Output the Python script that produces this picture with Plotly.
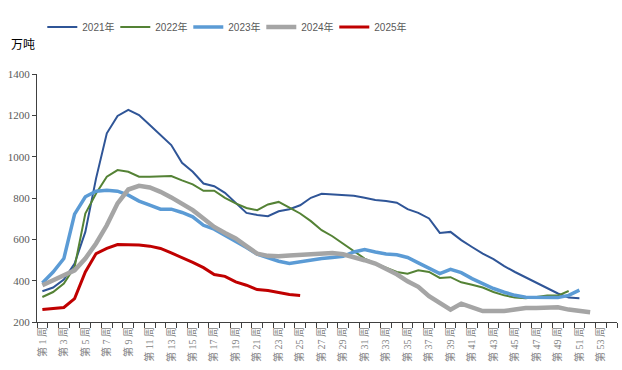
import plotly.graph_objects as go

weeks = [f"第{i}周" for i in range(1, 55)]

y2021 = [349, 367, 405, 483, 636, 895, 1113, 1197, 1226, 1201, 1153, 1105, 1056, 970,
         927, 870, 857, 825, 774, 728, 718, 712, 736, 746, 765, 801, 820, 817, 815, 811,
         801, 790, 785, 777, 746, 728, 701, 631, 636, 596, 563, 531, 504, 470, 442, 415,
         391, 362, 338, 318, 315]
y2022 = [321, 345, 386, 466, 725, 822, 903, 935, 927, 903, 903, 903, 906, 885, 866, 835,
         835, 801, 774, 752, 741, 769, 781, 754, 725, 688, 644, 615, 580, 544, 507, 483,
         463, 442, 434, 450, 442, 413, 417, 392, 380, 367, 345, 329, 318, 315, 321, 328,
         328, 350]
y2023 = [389, 442, 507, 722, 806, 833, 838, 833, 814, 785, 765, 746, 746, 730, 709, 668,
         649, 620, 588, 560, 528, 512, 494, 483, 491, 502, 507, 512, 518, 539, 551, 539,
         529, 525, 512, 486, 462, 434, 455, 439, 410, 386, 362, 344, 329, 320, 320, 318,
         318, 329, 354]
y2024 = [378, 402, 426, 450, 507, 580, 668, 774, 841, 859, 851, 830, 803, 772, 741, 701,
         660, 631, 604, 567, 531, 520, 518, 522, 526, 531, 534, 534, 528, 515, 499, 483,
         459, 431, 397, 370, 325, 292, 260, 289, 273, 253, 253, 253, 260, 268, 268, 271,
         271, 260, 252, 247]
y2025 = [260, 265, 270, 313, 442, 531, 556, 575, 575, 572, 567, 556, 534, 512, 488, 463,
         430, 421, 394, 378, 357, 352, 342, 333, 328]

series = [
    ("2021年", y2021, "#2F5597", 2),
    ("2022年", y2022, "#548235", 2),
    ("2023年", y2023, "#5B9BD5", 3.5),
    ("2024年", y2024, "#A5A5A5", 4.5),
    ("2025年", y2025, "#C00000", 3),
]

fig = go.Figure()
for name, vals, color, width in series:
    fig.add_trace(go.Scatter(
        x=weeks[:len(vals)], y=vals, name=name, mode="lines",
        line=dict(color=color, width=width),
    ))

tick_text = [w.replace("第", "第 ").replace("周", " 周") if i % 2 == 0 else ""
             for i, w in enumerate(weeks)]

fig.update_layout(
    width=622, height=370,
    margin=dict(l=37, r=5, t=74, b=48, autoexpand=False),
    paper_bgcolor="white", plot_bgcolor="white",
    showlegend=True,
    legend=dict(
        orientation="h", xref="container", yref="container",
        x=0.068, y=0.966, xanchor="left", yanchor="top",
        font=dict(family="Liberation Sans, Noto Sans CJK SC", size=10, color="#595959"),
        entrywidth=28, entrywidthmode="pixels",
        itemwidth=30, bgcolor="rgba(0,0,0,0)",
    ),
    xaxis=dict(
        type="category", categoryorder="array", categoryarray=weeks,
        range=[-0.5, 53.5], automargin=False,
        tickmode="array", tickvals=weeks, ticktext=tick_text,
        tickson="boundaries", ticks="outside", ticklen=5, tickcolor="#404040",
        tickangle=-90,
        tickfont=dict(family="Liberation Serif, Noto Sans CJK SC", size=10, color="#7f7f7f"),
        showline=True, linecolor="#404040", linewidth=1,
        showgrid=False, zeroline=False,
    ),
    yaxis=dict(
        range=[200, 1400], tickmode="linear", tick0=200, dtick=200,
        automargin=False,
        ticks="outside", ticklen=4, tickcolor="#404040",
        tickfont=dict(family="Liberation Serif", size=11, color="#595959"),
        showline=True, linecolor="#404040", linewidth=1,
        showgrid=False, zeroline=False,
    ),
    annotations=[dict(
        text="万吨", xref="paper", yref="paper", x=-0.024, y=1.121,
        xanchor="center", yanchor="middle", showarrow=False,
        font=dict(family="Noto Sans CJK SC", size=12, color="#000000"),
    )],
)

fig.write_html("out.html", config={"displayModeBar": False},
               post_script="document.body.style.margin='0px';")
